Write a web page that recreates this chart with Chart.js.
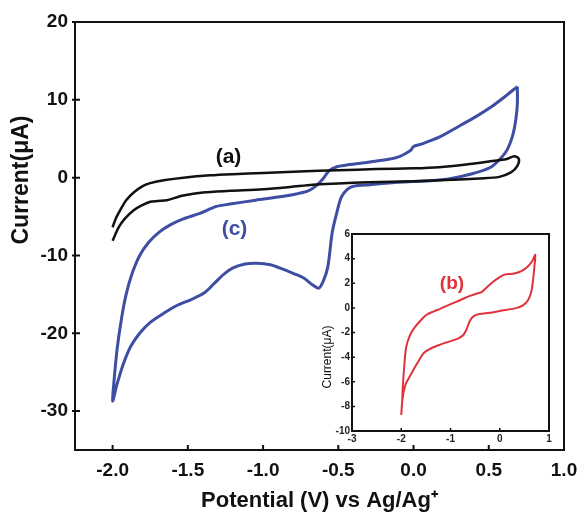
<!DOCTYPE html>
<html>
<head>
<meta charset="utf-8">
<script src="https://cdn.jsdelivr.net/npm/chart.js@4"></script>
<style>
  body { margin: 0; background: #fff; }
  #wrap { position: relative; width: 579px; height: 515px; }
  #main { position: absolute; left: 0; top: 0; }
  #inset { position: absolute; left: 300px; top: 222px; }
</style>
</head>
<body>
<div id="wrap">
  <canvas id="main" width="579" height="515"></canvas>
  <canvas id="inset" width="260" height="226"></canvas>
</div>
<script>
// Curve (a) - black
const aPotential = [-2.0, -1.98, -1.95, -1.91, -1.86, -1.80, -1.75, -1.65, -1.53, -1.35, -1.2, -1.0, -0.76, -0.5, -0.25, 0.0, 0.17, 0.35, 0.51, 0.62, 0.67, 0.70, 0.69, 0.65, 0.57, 0.44, 0.17, 0.0, -0.3, -0.5, -0.67, -0.82, -1.0, -1.22, -1.4, -1.53, -1.64, -1.70, -1.75, -1.81, -1.86, -1.92, -1.96, -2.0];
const aCurrent = [-6.4, -5.3, -4.2, -2.9, -1.9, -1.1, -0.7, -0.3, 0.0, 0.3, 0.45, 0.6, 0.8, 0.95, 1.1, 1.2, 1.35, 1.7, 2.1, 2.4, 2.75, 2.4, 1.5, 0.7, 0.1, -0.1, -0.35, -0.45, -0.6, -0.75, -0.9, -1.2, -1.5, -1.7, -1.9, -2.3, -2.9, -3.0, -3.1, -3.6, -4.2, -5.3, -6.4, -8.1];

// Curve (c) - blue
const cPotential = [0.69, 0.60, 0.51, 0.42, 0.31, 0.17, 0.05, 0.0, -0.02, -0.11, -0.22, -0.33, -0.45, -0.51, -0.56, -0.60, -0.65, -0.70, -0.78, -0.90, -1.05, -1.22, -1.31, -1.42, -1.53, -1.62, -1.69, -1.76, -1.82, -1.87, -1.91, -1.94, -1.97, -1.99, -2.0,
  -1.97, -1.93, -1.88, -1.82, -1.75, -1.65, -1.57, -1.47, -1.39, -1.33, -1.26, -1.2, -1.12, -1.04, -0.95, -0.89, -0.80, -0.73, -0.67, -0.63, -0.60, -0.57, -0.54, -0.51, -0.48, -0.44, -0.40, -0.29, -0.1, 0.11, 0.25, 0.39, 0.51, 0.57, 0.62, 0.66, 0.68, 0.69, 0.69];
const cCurrent = [11.7, 10.3, 9.0, 7.9, 6.7, 5.2, 4.3, 4.0, 3.5, 2.6, 2.2, 1.9, 1.6, 1.4, 0.9, -0.1, -1.1, -1.7, -2.1, -2.5, -2.9, -3.4, -3.7, -4.6, -5.3, -6.1, -7.0, -8.3, -10.0, -12.3, -15.0, -18.0, -22.0, -26.0, -28.7,
  -26.5, -24.0, -21.7, -20.0, -18.6, -17.3, -16.4, -15.6, -14.8, -13.7, -12.4, -11.6, -11.1, -11.0, -11.2, -11.6, -12.3, -12.9, -13.8, -14.2, -13.3, -11.5, -7.0, -4.5, -2.5, -1.5, -1.1, -0.9, -0.6, -0.4, -0.1, 0.5, 1.3, 2.3, 3.5, 5.5, 7.5, 9.5, 11.7];

// Curve (b) - red, inset
const bPotential = [-2.0, -1.98, -1.97, -1.94, -1.9, -1.82, -1.73, -1.6, -1.5, -1.35, -1.22, -1.0, -0.82, -0.62, -0.48, -0.38, -0.28, -0.14, 0.0, 0.1, 0.3, 0.45, 0.58, 0.66, 0.72,
  0.70, 0.68, 0.64, 0.57, 0.47, 0.35, 0.0, -0.2, -0.41, -0.52, -0.6, -0.68, -0.74, -0.85, -1.0, -1.22, -1.4, -1.55, -1.66, -1.75, -1.83, -1.9, -1.95, -1.98, -2.0];
const bCurrent = [-8.7, -7.5, -6.5, -4.8, -3.2, -2.2, -1.6, -1.0, -0.6, -0.3, -0.1, 0.3, 0.6, 0.95, 1.15, 1.25, 1.6, 2.1, 2.5, 2.7, 2.8, 3.0, 3.4, 3.8, 4.3,
  3.2, 2.4, 1.3, 0.6, 0.2, 0.0, -0.25, -0.4, -0.5, -0.65, -1.0, -1.8, -2.2, -2.5, -2.7, -3.0, -3.3, -3.7, -4.4, -5.0, -5.6, -6.1, -6.8, -7.6, -8.7];

// Tick values
const mainXTicks = [-2.0, -1.5, -1.0, -0.5, 0.0, 0.5, 1.0];
const mainYTicks = [-30, -20, -10, 0, 10, 20];
const insetXTicks = [-3, -2, -1, 0, 1];
const insetYTicks = [-10, -8, -6, -4, -2, 0, 2, 4, 6];

const toPoints = (xs, ys) => xs.map((x, i) => ({ x: x, y: ys[i] }));
const FONT = "'Liberation Sans', Arial, sans-serif";

// keep tick labels from pushing the plot area in
const noLabelPadding = scale => {
  scale.paddingLeft = 0;
  scale.paddingRight = 0;
};

// Draws the box frame, tick marks, curve labels and rotated y title
const framePlugin = {
  id: 'frame',
  afterDraw(chart, args, opts) {
    const { ctx, chartArea: a, scales } = chart;
    ctx.save();
    ctx.strokeStyle = '#111';
    ctx.lineWidth = opts.lineWidth;
    ctx.strokeRect(a.left, a.top, a.right - a.left, a.bottom - a.top);

    ctx.lineWidth = opts.tickWidth;
    ctx.beginPath();
    scales.x.ticks.forEach(t => {
      const px = scales.x.getPixelForValue(t.value);
      ctx.moveTo(px, a.bottom);
      ctx.lineTo(px, a.bottom - opts.tickLen);
    });
    scales.y.ticks.forEach(t => {
      const py = scales.y.getPixelForValue(t.value);
      ctx.moveTo(a.left - opts.tickOut, py);
      ctx.lineTo(a.left + opts.tickLen, py);
    });
    ctx.stroke();

    ctx.textAlign = 'center';
    ctx.textBaseline = 'middle';
    opts.labels.forEach(l => {
      ctx.font = l.font;
      ctx.fillStyle = l.color;
      ctx.fillText(l.text, scales.x.getPixelForValue(l.x), scales.y.getPixelForValue(l.y));
    });

    // y axis title
    const yt = opts.yTitle;
    ctx.translate(yt.x, yt.y);
    ctx.rotate(-Math.PI / 2);
    ctx.font = yt.font;
    ctx.fillStyle = '#111';
    ctx.fillText(yt.text, 0, 0);
    ctx.restore();
  }
};

// Main chart
new Chart(document.getElementById('main'), {
  type: 'scatter',
  data: {
    datasets: [
      {
        label: '(a)',
        data: toPoints(aPotential, aCurrent),
        showLine: true,
        borderColor: '#111',
        borderWidth: 2.5,
        pointRadius: 0,
        tension: 0.3
      },
      {
        label: '(c)',
        data: toPoints(cPotential, cCurrent),
        showLine: true,
        borderColor: '#3d4ea3',
        borderWidth: 3,
        pointRadius: 0,
        tension: 0.3
      }
    ]
  },
  plugins: [framePlugin],
  options: {
    responsive: false,
    animation: false,
    layout: { padding: { top: 22, right: 15, left: 0, bottom: 0 } },
    plugins: {
      legend: { display: false },
      tooltip: { enabled: false },
      frame: {
        lineWidth: 2,
        tickWidth: 2,
        tickLen: 5,
        tickOut: 3,
        labels: [
          { text: '(a)', x: -1.23, y: 2.6, font: `bold 21px ${FONT}`, color: '#111' },
          { text: '(c)', x: -1.19, y: -6.6, font: `bold 21px ${FONT}`, color: '#3d4ea3' }
        ],
        yTitle: { text: 'Current(μA)', x: 22, y: 180, font: `bold 23px ${FONT}` }
      }
    },
    scales: {
      x: {
        type: 'linear',
        min: -2.25,
        max: 1.0,
        afterFit: scale => { scale.height = 65; noLabelPadding(scale); },
        afterBuildTicks: scale => { scale.ticks = mainXTicks.map(v => ({ value: v })); },
        grid: { display: false, drawTicks: false },
        border: { display: false },
        ticks: {
          padding: 9,
          color: '#111',
          font: { family: FONT, size: 19, weight: 'bold' },
          callback: v => v.toFixed(1)
        },
        title: {
          display: true,
          text: 'Potential (V) vs Ag/Ag⁺',
          color: '#111',
          font: { family: FONT, size: 22, weight: 'bold' },
          padding: { top: 0, bottom: 1 }
        }
      },
      y: {
        type: 'linear',
        min: -35,
        max: 20,
        afterFit: scale => { scale.width = 75; },
        afterBuildTicks: scale => { scale.ticks = mainYTicks.map(v => ({ value: v })); },
        grid: { display: false, drawTicks: false },
        border: { display: false },
        ticks: {
          padding: 7,
          color: '#111',
          font: { family: FONT, size: 19, weight: 'bold' }
        }
      }
    }
  }
});

// Inset chart
new Chart(document.getElementById('inset'), {
  type: 'scatter',
  data: {
    datasets: [
      {
        label: '(b)',
        data: toPoints(bPotential, bCurrent),
        showLine: true,
        borderColor: '#e0323b',
        borderWidth: 2,
        pointRadius: 0,
        tension: 0.3
      }
    ]
  },
  plugins: [framePlugin],
  options: {
    responsive: false,
    animation: false,
    layout: { padding: { top: 12, right: 11, left: 0, bottom: 0 } },
    plugins: {
      legend: { display: false },
      tooltip: { enabled: false },
      frame: {
        lineWidth: 2,
        tickWidth: 1.5,
        tickLen: 3,
        tickOut: 1,
        labels: [
          { text: '(b)', x: -0.97, y: 1.93, font: `bold 19px ${FONT}`, color: '#e0323b' }
        ],
        yTitle: { text: 'Current(μA)', x: 28, y: 135, font: `12px ${FONT}` }
      }
    },
    scales: {
      x: {
        type: 'linear',
        min: -3,
        max: 1,
        afterFit: scale => { scale.height = 17; noLabelPadding(scale); },
        afterBuildTicks: scale => { scale.ticks = insetXTicks.map(v => ({ value: v })); },
        grid: { display: false, drawTicks: false },
        border: { display: false },
        ticks: {
          padding: 2,
          color: '#222',
          font: { family: FONT, size: 10, weight: 'bold' }
        }
      },
      y: {
        type: 'linear',
        min: -10,
        max: 6,
        afterFit: scale => { scale.width = 52; },
        afterBuildTicks: scale => { scale.ticks = insetYTicks.map(v => ({ value: v })); },
        grid: { display: false, drawTicks: false },
        border: { display: false },
        ticks: {
          padding: 2,
          color: '#222',
          font: { family: FONT, size: 10, weight: 'bold' }
        }
      }
    }
  }
});
</script>
</body>
</html>
